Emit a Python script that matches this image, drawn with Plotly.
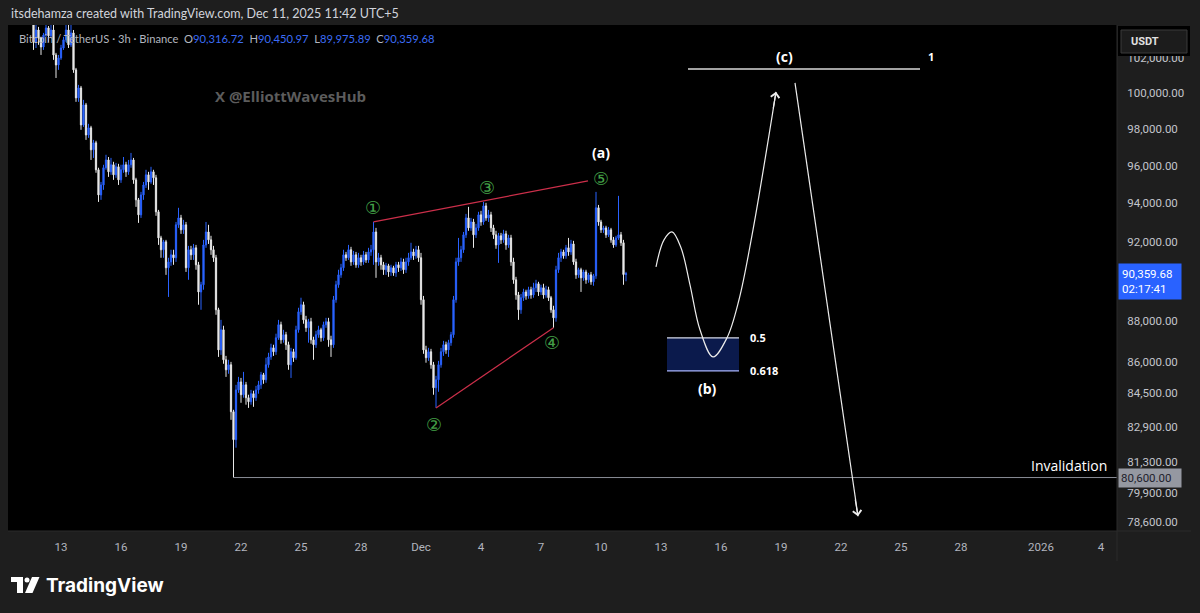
import numpy as np
import pandas as pd
import plotly.graph_objects as go

# ---------------- data: BTC/USDT 3h candles ----------------
first_candle = "2025-11-10 09:00"
opens = [
    105500, 105800, 106100, 105600, 105900, 106200, 105700, 105300, 104900, 105200,
    104600, 102900, 103590, 103130, 102610, 103300, 103710, 103250, 103590, 102150,
    101580, 101980, 102550, 103020, 103590, 102730, 103420, 101300, 99720, 100280,
    98220, 99330, 97670, 98060, 96860, 97240, 95780, 94440, 94970, 95890,
    96310, 95670, 96050, 95510, 95940, 95240, 95780, 96050, 95670, 96050,
    96310, 95240, 94180, 93390, 94440, 94970, 95510, 95130, 95670, 95350,
    93550, 92190, 91580, 91990, 90660, 90960, 91320, 91170, 92870, 93230,
    92610, 92870, 90660, 91580, 91320, 91680, 90810, 89440, 89800, 91830,
    92500, 92090, 91580, 91170, 88550, 86580, 87560, 86100, 85620, 85860,
    83630, 82330, 84660, 85040, 84430, 84900, 84290, 84100, 84480, 84290,
    84660, 84900, 85380, 85140, 85860, 86240, 86680, 86490, 87170, 87810,
    87070, 87320, 86830, 85860, 86490, 86200, 87560, 88450, 88800, 88050,
    87660, 87960, 87070, 86830, 87320, 87560, 87170, 87810, 87960, 87070,
    86830, 89050, 89800, 90300, 90660, 91320, 91170, 91580, 90960, 91320,
    90810, 91170, 90960, 91320, 91060, 91470, 91580, 92500, 90960, 91170,
    90810, 90560, 90760, 90450, 90660, 90400, 90810, 90660, 90960, 90560,
    90960, 91170, 91470, 91270, 91580, 91170, 89050, 86580, 86200, 86490,
    85860, 84760, 85140, 85860, 86490, 86830, 86580, 86930, 87320, 89050,
    90960, 91170, 91580, 92350, 93230, 92710, 93020, 92350, 92710, 93390,
    93020, 93860, 93230, 93390, 92710, 92350, 91830, 92300, 92090, 92400,
    91830, 92190, 90960, 90050, 89290, 88550, 89150, 89440, 89240, 89550,
    89290, 89650, 89850, 89440, 89650, 89290, 89550, 89150, 88550, 88150,
    90560, 91170, 91470, 91270, 91680, 91470, 91880, 90960, 90300, 90560,
    90150, 90450, 90050, 90300, 89950, 90250, 93760, 93020, 92610, 92710,
    92350, 92610, 92090, 91830, 92190, 92350, 91940, 90316.72,
]
highs = [
    106100, 106400, 106400, 106200, 106500, 106500, 106000, 105600, 105500, 105500,
    104800, 103880, 103770, 103200, 103420, 104050, 103820, 103940, 103880, 102270,
    102150, 102730, 103190, 104180, 104060, 103880, 103590, 101410, 100450, 100390,
    99610, 99440, 98280, 98170, 97400, 97350, 95890, 95130, 96050, 96590,
    96470, 96420, 96210, 96150, 96100, 96050, 96470, 96210, 96310, 96690,
    96420, 95350, 94280, 94600, 95130, 95780, 95670, 95940, 95780, 95510,
    93650, 92300, 92090, 92090, 91170, 91580, 91580, 93020, 93760, 93390,
    93130, 93020, 91780, 91780, 91880, 91830, 90960, 89950, 92090, 93020,
    92870, 92300, 91780, 91320, 88650, 88050, 87760, 86290, 86100, 86000,
    83720, 84900, 85280, 85230, 85520, 85040, 84430, 84660, 84620, 84850,
    85090, 85520, 85470, 86200, 86440, 86880, 86830, 87370, 88050, 87960,
    87560, 87460, 86980, 86680, 86630, 87760, 88650, 89150, 88950, 88250,
    88100, 88150, 87220, 87510, 87760, 87660, 87960, 88150, 88150, 87270,
    89240, 90000, 90560, 90860, 91580, 91470, 91830, 91730, 91520, 91470,
    91420, 91320, 91520, 91470, 91680, 91830, 93020, 92710, 91420, 91320,
    90960, 90910, 90860, 90810, 90760, 90960, 90960, 91170, 91120, 91170,
    91420, 91940, 91630, 91780, 91780, 91420, 89240, 86780, 86680, 86630,
    86000, 85330, 86050, 86680, 87020, 86980, 87070, 87460, 89240, 91170,
    92190, 91780, 92500, 93440, 93810, 93230, 93180, 92920, 93550, 93600,
    94070, 94020, 93650, 93550, 92870, 92560, 92450, 92450, 92610, 92560,
    92350, 92350, 91170, 90200, 89440, 89340, 89600, 89550, 89700, 89700,
    89900, 90050, 89950, 89800, 89850, 89750, 89700, 89240, 88750, 90760,
    91420, 91630, 91580, 91830, 92190, 92090, 92040, 91120, 90660, 90660,
    90560, 90560, 90400, 90450, 90350, 94600, 93910, 93130, 92820, 92820,
    92760, 92710, 92240, 92300, 94390, 92500, 92090, 90450.97,
]
lows = [
    105200, 105500, 105300, 105300, 105600, 105400, 105000, 104600, 104600, 104300,
    102440, 102550, 102730, 102150, 102440, 103190, 102900, 103130, 101870, 100840,
    101300, 101870, 102440, 102900, 102550, 102610, 101130, 99500, 99500, 97950,
    98110, 97400, 97510, 96310, 96420, 95620, 94070, 94180, 94710, 95780,
    95400, 95510, 95240, 95350, 94970, 95080, 95620, 95400, 95510, 95890,
    95030, 93810, 92970, 93230, 94180, 94810, 94710, 95030, 94970, 93340,
    91830, 91170, 91170, 90300, 89190, 90760, 90810, 90960, 92710, 92400,
    92400, 90450, 90050, 91060, 91060, 90560, 88800, 88550, 89550, 91680,
    91880, 91320, 90960, 88300, 86240, 86340, 85910, 85280, 85430, 83250,
    80600, 81960, 84520, 84050, 84290, 83960, 83810, 83960, 83860, 84140,
    84480, 84710, 84950, 85000, 85720, 86100, 86290, 86340, 87070, 86880,
    86930, 86580, 85620, 85230, 86000, 86100, 87420, 88300, 87860, 87460,
    86930, 86880, 86100, 86680, 87170, 86980, 87020, 87660, 86730, 86240,
    86680, 88900, 89650, 90150, 90500, 91010, 91060, 90760, 90810, 90660,
    90660, 90760, 90810, 90910, 90910, 91270, 90810, 90150, 90760, 90560,
    90300, 90300, 90200, 90250, 90250, 90200, 90450, 90500, 90350, 90400,
    90760, 91060, 91060, 91120, 90960, 88800, 86390, 85960, 86050, 85670,
    84430, 83810, 84570, 85720, 86290, 86390, 86240, 86780, 87170, 88900,
    90760, 90960, 91420, 92190, 92560, 92560, 91680, 92190, 92560, 92820,
    92870, 93080, 93020, 92500, 92140, 91630, 90910, 91880, 91940, 91580,
    91680, 90760, 89850, 89050, 88050, 88350, 88990, 89050, 89100, 89100,
    89150, 89440, 89240, 89290, 89100, 89150, 88990, 88400, 87660, 87960,
    90400, 90960, 91120, 91120, 91270, 91320, 90810, 90100, 90150, 89440,
    90000, 89850, 89900, 89800, 89750, 90100, 92820, 92450, 92450, 92190,
    92240, 91940, 91680, 91730, 92090, 91780, 89800, 89975.89,
]
closes = [
    105800, 106100, 105600, 105900, 106200, 105700, 105300, 104900, 105200, 104600,
    102900, 103590, 103130, 102610, 103300, 103710, 103250, 103590, 102150, 101580,
    101980, 102550, 103020, 103590, 102730, 103420, 101300, 99720, 100280, 98220,
    99330, 97670, 98060, 96860, 97240, 95780, 94440, 94970, 95890, 96310,
    95670, 96050, 95510, 95940, 95240, 95780, 96050, 95670, 96050, 96310,
    95240, 94180, 93390, 94440, 94970, 95510, 95130, 95670, 95350, 93550,
    92190, 91580, 91990, 90660, 90960, 91320, 91170, 92870, 93230, 92610,
    92870, 90660, 91580, 91320, 91680, 90810, 89440, 89800, 91830, 92500,
    92090, 91580, 91170, 88550, 86580, 87560, 86100, 85620, 85860, 83630,
    82330, 84660, 85040, 84430, 84900, 84290, 84100, 84480, 84290, 84660,
    84900, 85380, 85140, 85860, 86240, 86680, 86490, 87170, 87810, 87070,
    87320, 86830, 85860, 86490, 86200, 87560, 88450, 88800, 88050, 87660,
    87960, 87070, 86830, 87320, 87560, 87170, 87810, 87960, 87070, 86830,
    89050, 89800, 90300, 90660, 91320, 91170, 91580, 90960, 91320, 90810,
    91170, 90960, 91320, 91060, 91470, 91580, 92500, 90960, 91170, 90810,
    90560, 90760, 90450, 90660, 90400, 90810, 90660, 90960, 90560, 90960,
    91170, 91470, 91270, 91580, 91170, 89050, 86580, 86200, 86490, 85860,
    84760, 85140, 85860, 86490, 86830, 86580, 86930, 87320, 89050, 90960,
    91170, 91580, 92350, 93230, 92710, 93020, 92350, 92710, 93390, 93020,
    93860, 93230, 93390, 92710, 92350, 91830, 92300, 92090, 92400, 91830,
    92190, 90960, 90050, 89290, 88550, 89150, 89440, 89240, 89550, 89290,
    89650, 89850, 89440, 89650, 89290, 89550, 89150, 88550, 88150, 90560,
    91170, 91470, 91270, 91680, 91470, 91880, 90960, 90300, 90560, 90150,
    90450, 90050, 90300, 89950, 90250, 93760, 93020, 92610, 92710, 92350,
    92610, 92090, 91830, 92190, 92350, 91940, 90316.72, 90359.68,
]
times = pd.date_range(first_candle, periods=len(closes), freq="3h")

# price axis ticks
y_ticks = [78600, 79900, 81300, 82900, 84500, 86000, 88000, 92000, 94000, 96000, 98000, 100000, 102000]
# time axis ticks
x_tick_dates = ["2025-11-13", "2025-11-16", "2025-11-19", "2025-11-22", "2025-11-25", "2025-11-28",
                "2025-12-01", "2025-12-04", "2025-12-07", "2025-12-10", "2025-12-13", "2025-12-16",
                "2025-12-19", "2025-12-22", "2025-12-25", "2025-12-28", "2026-01-01", "2026-01-04"]
x_tick_text = ["13", "16", "19", "22", "25", "28", "Dec", "4", "7", "10", "13", "16",
               "19", "22", "25", "28", "2026", "4"]

# ---------------- drawings (in time / price units) ----------------
wedge_upper_t = ["2025-11-28 15:00", "2025-12-09 08:24"]
wedge_upper_p = [93020, 95190]
wedge_lower_t = ["2025-12-01 18:00", "2025-12-07 15:00"]
wedge_lower_p = [83810, 87660]

wave_labels = ["\u2460", "\u2461", "\u2462", "\u2463", "\u2464"]
wave_t = ["2025-11-28 14:24", "2025-12-01 15:36", "2025-12-04 07:12", "2025-12-07 13:12", "2025-12-10 00:00"]
wave_p = [93760, 83020, 94810, 86920, 95290]

path_t = ["2025-12-12 18:00", "2025-12-13 03:36", "2025-12-13 13:12", "2025-12-14 00:00",
          "2025-12-14 10:48", "2025-12-14 22:48", "2025-12-15 14:24", "2025-12-16 07:12",
          "2025-12-16 21:36", "2025-12-17 14:24", "2025-12-18 18:00"]
path_p = [90710, 92090, 92500, 91680, 89800, 87560, 86240, 87170, 89050, 92610, 100060]

drop_t = ["2025-12-19 16:48", "2025-12-22 20:24"]
drop_p = [100560, 78870]

c_line_t = ["2025-12-14 08:24", "2025-12-25 22:48"]
c_line_p = [101350, 101350]

fib_t = ["2025-12-13 07:12", "2025-12-16 21:36"]
fib_levels = [87170, 85570]   # 0.5 , 0.618

invalidation_level = 80600
invalidation_t = ["2025-11-21 15:00", "2026-01-06 00:00"]

# ---------------- layout geometry (pixels) ----------------
W, H = 1200, 613
PL, PR, PT, PB = 8, 1117, 25, 531


def px(x):
    return (x - PL) / (PR - PL)


def py(y):
    return (PB - y) / (PB - PT)


fig = go.Figure()

fig.add_trace(go.Candlestick(
    x=times, open=opens, high=highs, low=lows, close=closes,
    increasing=dict(line=dict(color="#2962ff", width=1), fillcolor="#2962ff"),
    decreasing=dict(line=dict(color="#e8e8e8", width=1), fillcolor="#e8e8e8"),
    whiskerwidth=0, hoverinfo="skip", showlegend=False,
))

red = "#cc2f4a"
fig.add_trace(go.Scatter(x=wedge_upper_t, y=wedge_upper_p, mode="lines",
                         line=dict(color=red, width=1.2), hoverinfo="skip", showlegend=False))
fig.add_trace(go.Scatter(x=wedge_lower_t, y=wedge_lower_p, mode="lines",
                         line=dict(color=red, width=1.2), hoverinfo="skip", showlegend=False))

# invalidation line
fig.add_trace(go.Scatter(x=invalidation_t, y=[invalidation_level] * 2, mode="lines",
                         line=dict(color="#8a8d96", width=1), hoverinfo="skip", showlegend=False))

# fib box
fig.add_shape(type="rect", xref="x", yref="y", x0=fib_t[0], x1=fib_t[1],
              y0=fib_levels[1], y1=fib_levels[0], fillcolor="#0b1a4c", line=dict(width=0), layer="below")
fig.add_trace(go.Scatter(x=fib_t, y=[fib_levels[0]] * 2, mode="lines",
                         line=dict(color="#d6d9e6", width=1.2), hoverinfo="skip", showlegend=False))
fig.add_trace(go.Scatter(x=fib_t, y=[fib_levels[1]] * 2, mode="lines",
                         line=dict(color="#a9b6ff", width=1.2), hoverinfo="skip", showlegend=False))

# projection path
fig.add_trace(go.Scatter(x=path_t, y=path_p, mode="lines",
                         line=dict(color="#ececec", width=1.2, shape="spline", smoothing=1.0),
                         hoverinfo="skip", showlegend=False))
fig.add_trace(go.Scatter(x=drop_t, y=drop_p, mode="lines",
                         line=dict(color="#ececec", width=1.2), hoverinfo="skip", showlegend=False))
fig.add_trace(go.Scatter(x=c_line_t, y=c_line_p, mode="lines",
                         line=dict(color="#d8d8d8", width=1.5), hoverinfo="skip", showlegend=False))

# arrow heads
fig.add_annotation(x=path_t[-1], y=np.log10(path_p[-1]), xref="x", yref="y", text="",
                   showarrow=True, ax=-3, ay=18, arrowhead=4, arrowsize=1.4, arrowwidth=1.2,
                   arrowcolor="#ececec")
fig.add_annotation(x=drop_t[-1], y=np.log10(drop_p[-1]), xref="x", yref="y", text="",
                   showarrow=True, ax=-3, ay=-18, arrowhead=4, arrowsize=1.4, arrowwidth=1.2,
                   arrowcolor="#ececec")


def label(t, p, text, size, color="#ffffff", xanchor="center", family="Open Sans", bold=True):
    fig.add_annotation(x=t, y=np.log10(p), xref="x", yref="y",
                       text=f"<b>{text}</b>" if bold else text, showarrow=False,
                       xanchor=xanchor, yanchor="middle",
                       font=dict(size=size, color=color, family=family))


for lab, t, p in zip(wave_labels, wave_t, wave_p):
    label(t, p, lab, 18, color="#43a047", family="DejaVu Sans", bold=False)

label("2025-12-10 00:00", 96690, "(a)", 14)
label("2025-12-15 07:12", 84710, "(b)", 14)
label("2025-12-19 03:36", 102040, "(c)", 14)
label("2025-12-26 12:00", 102040, "1", 11)
label("2025-12-17 08:24", fib_levels[0], "0.5", 11, xanchor="left")
label("2025-12-17 08:24", fib_levels[1], "0.618", 11, xanchor="left")
label("2026-01-04 09:36", 81130, "Invalidation", 14, xanchor="right", bold=False)

# ---------------- chrome: frame, header, price tags ----------------
shapes = [
    dict(type="rect", xref="paper", yref="paper", x0=px(8), x1=px(1191), y0=py(561), y1=py(25),
         fillcolor="#000000", line=dict(color="#2a2a2a", width=1), layer="below"),
    dict(type="line", xref="paper", yref="paper", x0=px(1117), x1=px(1117), y0=py(561), y1=py(25),
         line=dict(color="#2b2b2b", width=1)),
    dict(type="line", xref="paper", yref="paper", x0=px(8), x1=px(1191), y0=py(531), y1=py(531),
         line=dict(color="#2b2b2b", width=1)),
    dict(type="rect", xref="paper", yref="paper", x0=px(1118), x1=px(1190), y0=py(56), y1=py(26),
         fillcolor="#000000", line=dict(width=0)),
    dict(type="rect", xref="paper", yref="paper", x0=px(1121), x1=px(1187), y0=py(53), y1=py(30),
         fillcolor="#1c1c1c", line=dict(color="#3a3a3a", width=1)),
    # TradingView logo
    dict(type="rect", xref="paper", yref="paper", x0=px(11), x1=px(23), y0=py(582), y1=py(577),
         fillcolor="#ffffff", line=dict(width=0)),
    dict(type="rect", xref="paper", yref="paper", x0=px(17), x1=px(23), y0=py(593), y1=py(577),
         fillcolor="#ffffff", line=dict(width=0)),
    dict(type="circle", xref="paper", yref="paper", x0=px(24.5), x1=px(29.5), y0=py(582.5), y1=py(577.5),
         fillcolor="#ffffff", line=dict(width=0)),
    dict(type="path", xref="paper", yref="paper",
         path=f"M {px(32)},{py(577)} L {px(39.5)},{py(577)} L {px(32.5)},{py(593)} L {px(25)},{py(593)} Z",
         fillcolor="#ffffff", line=dict(width=0)),
]
fig.update_layout(shapes=shapes)

blue_txt = "#3b6cf5"
nb = "\u00a0"
legend = ("Bitcoin / TetherUS · 3h · Binance" + nb * 2 +
          f"O<span style='color:{blue_txt}'>90,316.72</span>{nb*2}"
          f"H<span style='color:{blue_txt}'>90,450.97</span>{nb*2}"
          f"L<span style='color:{blue_txt}'>89,975.89</span>{nb*2}"
          f"C<span style='color:{blue_txt}'>90,359.68</span>")

paper_notes = [
    dict(x=px(9), y=py(14), text="itsdehamza created with TradingView.com, Dec 11, 2025 11:42 UTC+5",
         font=dict(size=12.5, color="#d1d4dc", family="Lato")),
    dict(x=px(17), y=py(39), text=legend, font=dict(size=11.2, color="#b2b5be", family="Lato")),
    dict(x=px(213), y=py(96), text="<b>X @ElliottWavesHub</b>",
         font=dict(size=15, color="#5c5c5c", family="Open Sans")),
    dict(x=px(1129), y=py(41.5), text="<b>USDT</b>", font=dict(size=11, color="#e0e0e0", family="Roboto")),
    dict(x=px(44), y=py(585), text="<b>TradingView</b>", font=dict(size=19, color="#ffffff", family="Inter")),
]
for n in paper_notes:
    fig.add_annotation(xref="paper", yref="paper", xanchor="left", yanchor="middle",
                       showarrow=False, **n)

# last-price tag and invalidation tag on the price scale
fig.add_annotation(xref="paper", yref="y", x=px(1118), y=np.log10(closes[-1]), xanchor="left",
                   yanchor="middle", yshift=-8, showarrow=False, align="left",
                   text=f"{closes[-1]:,.2f}<br>02:17:41", bgcolor="#2962ff", borderpad=3, width=56,
                   font=dict(size=11.5, color="#ffffff", family="Roboto"))
fig.add_annotation(xref="paper", yref="y", x=px(1118), y=np.log10(invalidation_level), xanchor="left",
                   yanchor="middle", showarrow=False, align="left",
                   text=f"{invalidation_level:,.2f}", bgcolor="#9598a1", borderpad=2, width=58,
                   font=dict(size=11.5, color="#1e222d", family="Roboto"))

fig.update_layout(
    width=W, height=H, autosize=False,
    margin=dict(l=PL, r=W - PR, t=PT, b=H - PB, pad=0),
    paper_bgcolor="#1e1e1e", plot_bgcolor="#000000",
    showlegend=False, hovermode=False, dragmode=False,
    xaxis=dict(type="date", range=["2025-11-10 08:24", "2026-01-04 19:12"],
               tickvals=x_tick_dates, ticktext=x_tick_text, showgrid=False, zeroline=False,
               showline=False, ticks="outside", ticklen=5, tickcolor="rgba(0,0,0,0)",
               tickfont=dict(size=11.5, color="#b2b5be", family="Roboto"),
               rangeslider=dict(visible=False), fixedrange=True),
    yaxis=dict(type="log", range=[np.log10(78220), np.log10(103880)], side="right",
               tickvals=y_ticks, ticktext=[f"{v:,.2f}" for v in y_ticks],
               showgrid=False, zeroline=False, showline=False, ticks="outside", ticklen=7,
               tickcolor="rgba(0,0,0,0)",
               tickfont=dict(size=11.5, color="#c3c5cc", family="Roboto"), fixedrange=True),
)

fig.write_html("out.html", config={"displayModeBar": False},
               post_script="document.body.style.margin='0';document.body.style.background='#1e1e1e';")
